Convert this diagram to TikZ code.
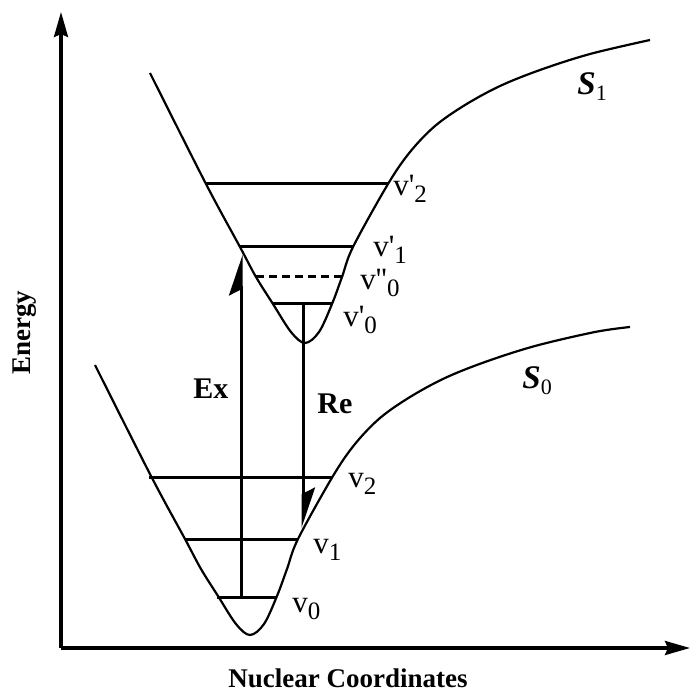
\documentclass[tikz,border=0pt]{standalone}
\usepackage{fontspec}
\setmainfont{Liberation Serif}
\newfontfamily\labfont{Liberation Serif}
\usetikzlibrary{arrows.meta}
\newcommand\lo[1]{\raisebox{-3.5pt}{\fontsize{12.5}{12.5}\selectfont #1}}
\newcommand\slo[1]{\raisebox{-3pt}{\fontsize{11}{11}\selectfont\upshape\mdseries #1}}

\begin{document}
\begin{tikzpicture}[
        x=0.5pt, y=-0.5pt,
        curve/.style={line width=1.1pt, smooth, tension=0.55},
        level/.style={line width=1.5pt},
        axis/.style={line width=1.6pt, -{Stealth[length=12.5pt, width=7pt, inset=1.5pt]}},
        trans/.style={line width=1.5pt, -{Stealth[harpoon, length=18pt, width=12pt, inset=3pt]}},
        lab/.style={inner sep=0pt, anchor=base west, font=\labfont\fontsize{15.5}{15.5}\selectfont},
        title/.style={inner sep=0pt, font=\bfseries\fontsize{13.5}{16}\selectfont}
    ]
        \useasboundingbox (0,0) rectangle (691,694);

        % axes
        \coordinate (O) at (61,648);
        \coordinate (ytop) at (61,12);
        \coordinate (xend) at (690,648);
        \draw[axis] (O) -- (ytop);
        \draw[axis] (O) -- (xend);
        \node[title, rotate=90] (energy) at (25,333) {Energy};
        \node[title, anchor=base] (nuc) at (348,687) {Nuclear Coordinates};

        % potential curves
        \draw[curve] plot coordinates {(150,73) (206,184) (240,247) (256,277) (273,304)
            (291,332) (305,343) (319,332) (332,304) (342,277) (353,247) (388,184)
            (410,152) (435,126) (465,105) (500,86) (540,70) (590,54) (650,40)};
        \draw[curve] plot coordinates {(95,365) (151,476) (185,539) (201,569) (218,596)
            (236,624) (250,635) (264,624) (277,596) (287,569) (298,539) (333,476)
            (355,444) (380,418) (410,397) (445,378) (485,362) (535,346) (595,332) (630,327)};

        % vibrational levels
        \draw[level] (206,184) -- (388,184);
        \draw[level] (240,247) -- (353,247);
        \draw[level, dash pattern=on 4pt off 2.5pt] (256,277) -- (342,277);
        \draw[level] (273,304) -- (332,304);
        \draw[level] (149,477) -- (332,477);
        \draw[level] (185,539) -- (298,539);
        \draw[level] (217,597) -- (277,597);

        \node[lab] (vp2) at (393,196) {v'\lo{2}};
        \node[lab] (vp1) at (373,257) {v'\lo{1}};
        \node[lab] (vpp0) at (360,290) {v''\lo{0}};
        \node[lab] (vp0) at (343,327) {v'\lo{0}};
        \node[lab] (v2) at (348,487) {v\lo{2}};
        \node[lab] (v1) at (313,553) {v\lo{1}};
        \node[lab] (v0) at (292,612) {v\lo{0}};

        \node[lab, font=\bfseries\itshape\fontsize{16.5}{16.5}\selectfont] (s1) at (577,95) {S\slo{1}};
        \node[lab, font=\bfseries\itshape\fontsize{16.5}{16.5}\selectfont] (s0) at (522,388) {S\slo{0}};

        % transitions
        \coordinate (ex0) at (241,597);
        \coordinate (ex1) at (241,255);
        \coordinate (re0) at (303,304);
        \coordinate (re1) at (303,528);
        \draw[trans] (ex0) -- (ex1);
        \draw[trans] (re0) -- (re1);
        \node[lab, font=\bfseries\fontsize{15}{15}\selectfont] (ex) at (193,398) {Ex};
        \node[lab, font=\bfseries\fontsize{15}{15}\selectfont] (re) at (317,413) {Re};
    \end{tikzpicture}
\end{document}
